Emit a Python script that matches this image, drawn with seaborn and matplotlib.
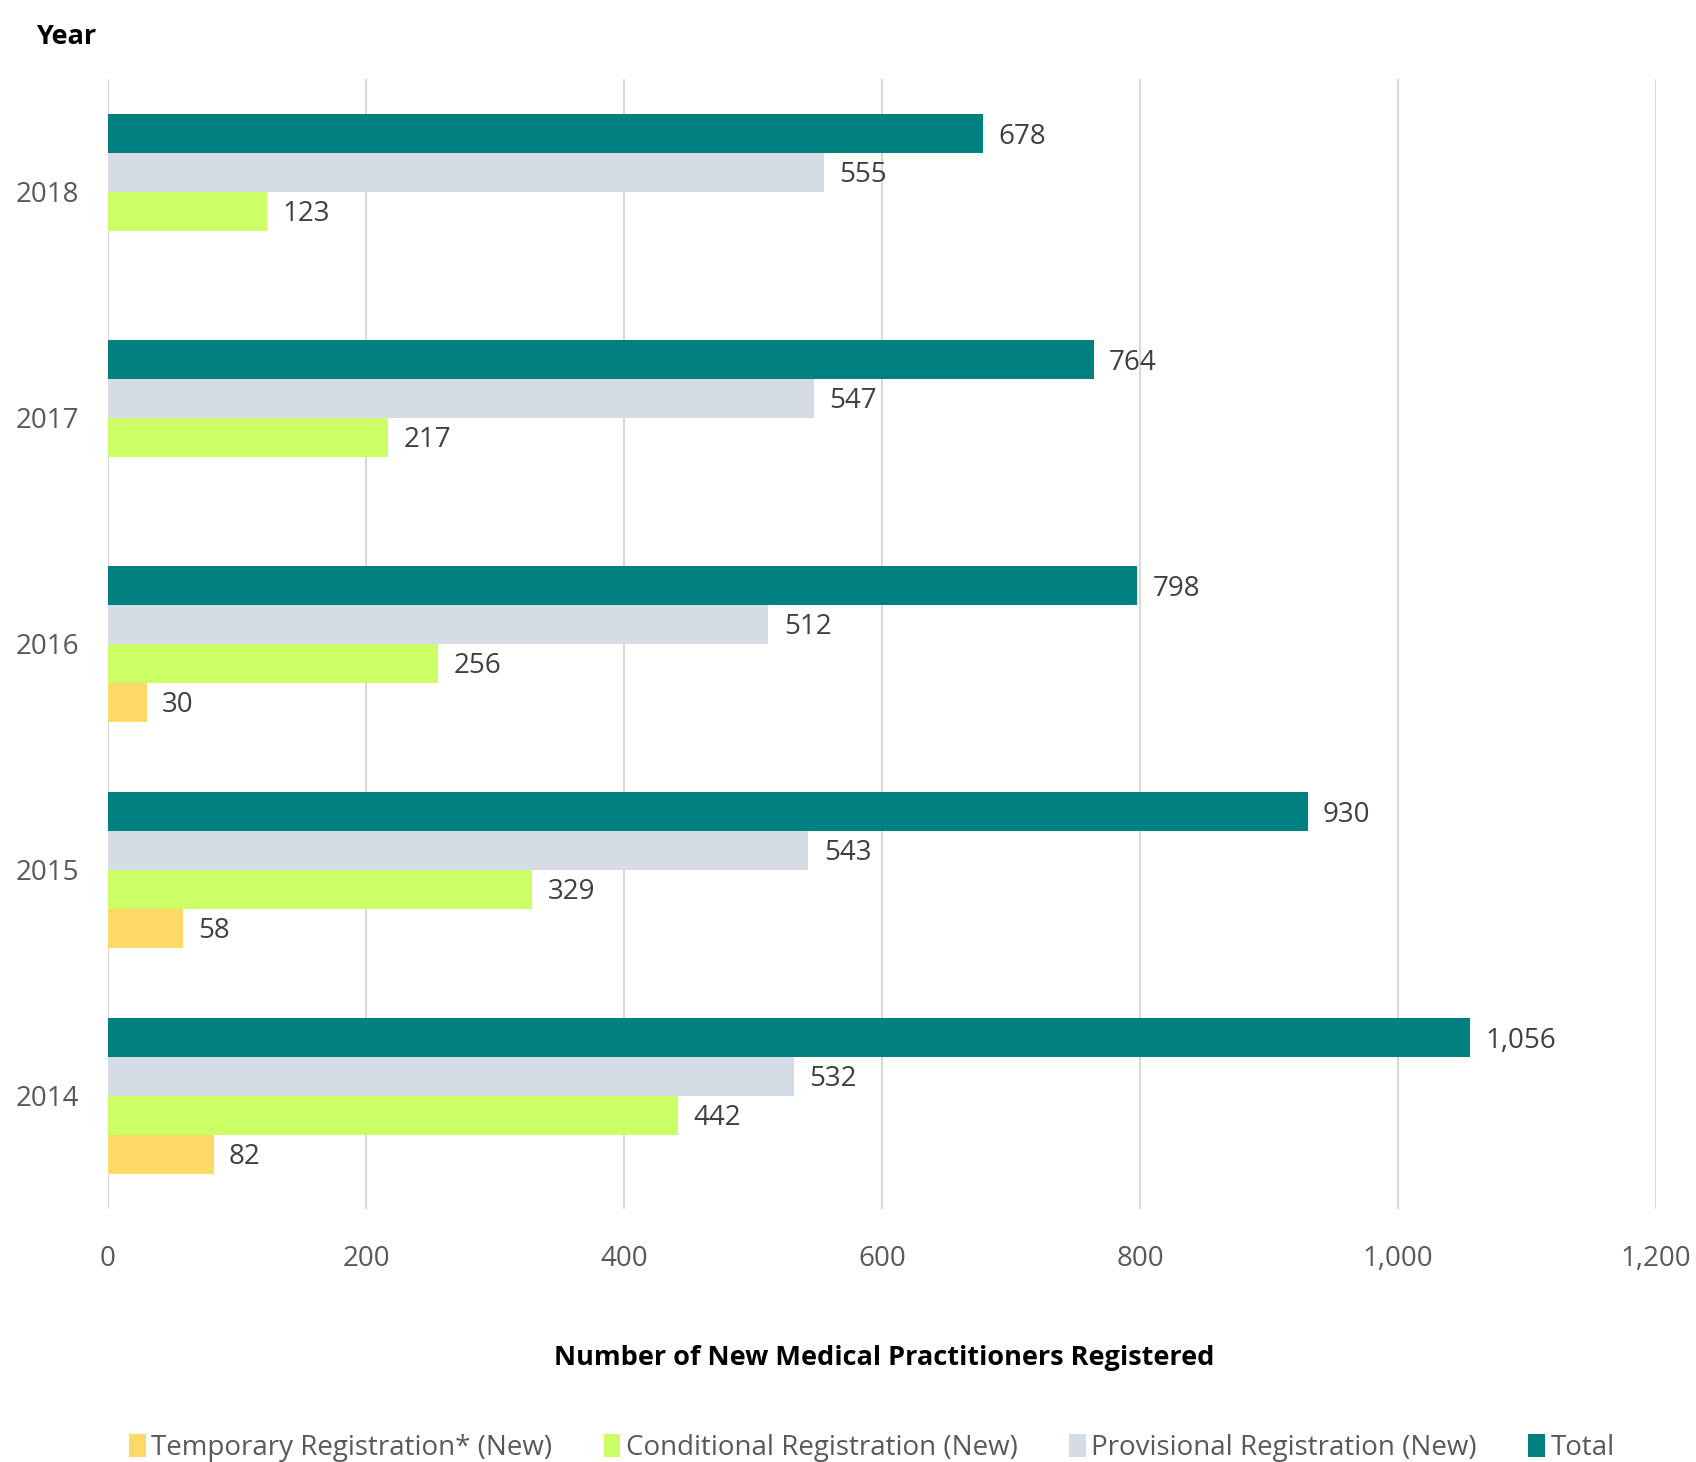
import matplotlib
matplotlib.use("Agg")
import matplotlib.pyplot as plt
from matplotlib.patches import Patch
import seaborn as sns
import pandas as pd

years = ["2018", "2017", "2016", "2015", "2014"]
total = [678, 764, 798, 930, 1056]
provisional = [555, 547, 512, 543, 532]
conditional = [123, 217, 256, 329, 442]
temporary = [None, None, 30, 58, 82]

series_names = ["Total", "Provisional Registration (New)",
                "Conditional Registration (New)", "Temporary Registration* (New)"]
series_values = [total, provisional, conditional, temporary]
colors = {"Total": "#008080",
          "Provisional Registration (New)": "#D6DCE5",
          "Conditional Registration (New)": "#CCFF66",
          "Temporary Registration* (New)": "#FFD966"}
legend_order = ["Temporary Registration* (New)", "Conditional Registration (New)",
                "Provisional Registration (New)", "Total"]

rows = []
for name, vals in zip(series_names, series_values):
    for y, v in zip(years, vals):
        if v is not None:
            rows.append({"Year": y, "Series": name, "Value": v})
df = pd.DataFrame(rows)

sns.set_theme(style="white")
plt.rcParams["font.family"] = ["Open Sans", "DejaVu Sans"]

fig = plt.figure(figsize=(16.96, 14.62), dpi=100)
ax = fig.add_axes([108/1696, 1 - 1209/1462, (1656-108)/1696, (1209-79)/1462])

sns.barplot(data=df, y="Year", x="Value", hue="Series", order=years,
            hue_order=series_names, palette=colors, orient="h", saturation=1,
            width=0.686, gap=0, dodge=True, legend=False, ax=ax,
            edgecolor="none", linewidth=0)

for c in ax.containers:
    for bar in c:
        w = bar.get_width()
        yc = bar.get_y() + bar.get_height() / 2
        ax.annotate(f"{w:,.0f}", xy=(w, yc), xytext=(11, -2),
                    textcoords="offset points", ha="left", va="center",
                    fontsize=20, color="#404040")

ax.set_xlim(0, 1200)
ax.set_ylim(4.5, -0.5)
ax.set_xticks(range(0, 1201, 200))
ax.set_xticklabels([f"{v:,}" for v in range(0, 1201, 200)])
ax.grid(axis="x", color="#D9D9D9", linewidth=1.5)
ax.grid(axis="y", visible=False)
ax.set_axisbelow(True)
for s in ax.spines.values():
    s.set_visible(False)
ax.tick_params(axis="x", length=0, pad=26, labelsize=20, labelcolor="#595959")
ax.tick_params(axis="y", length=0, pad=21, labelsize=20, labelcolor="#595959")
ax.set_ylabel("")
ax.set_xlabel("")

fig.text(884/1696, 1 - 1358/1462, "Number of New Medical Practitioners Registered",
         ha="center", va="center", fontsize=19.5, fontweight="bold", color="black")
fig.text(36/1696, 1 - 37/1462, "Year", ha="left", va="center",
         fontsize=19.5, fontweight="bold", color="black")

handles = [Patch(facecolor=colors[n], edgecolor="none", label=n) for n in legend_order]
leg = fig.legend(handles=handles, loc="center", bbox_to_anchor=(872/1696, 1 - 1448/1462),
                 ncol=4, frameon=False, fontsize=20, handlelength=0.6, handleheight=0.9,
                 handletextpad=0.2, columnspacing=1.85, labelcolor="#595959")

fig.savefig("out.png", dpi=100)
